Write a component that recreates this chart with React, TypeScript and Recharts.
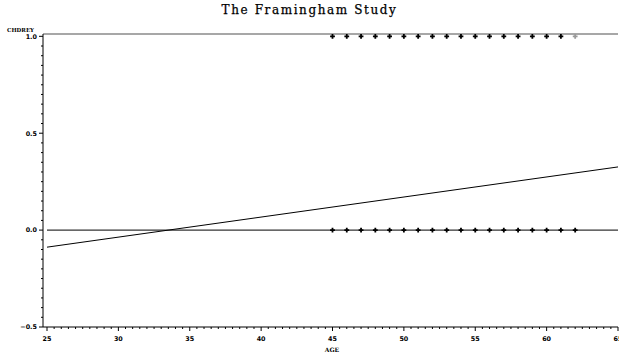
import React from 'react';
import {
  ComposedChart,
  Line,
  Scatter,
  XAxis,
  YAxis,
  ReferenceLine,
} from 'recharts';

// ---- data ----
const agesEvent: number[] = [45, 46, 47, 48, 49, 50, 51, 52, 53, 54, 55, 56, 57, 58, 59, 60, 61];
const agesEventFaint: number[] = [62];
const agesNoEvent: number[] = [45, 46, 47, 48, 49, 50, 51, 52, 53, 54, 55, 56, 57, 58, 59, 60, 61, 62];
const fitAges: number[] = [25, 65];
const fitValues: number[] = [-0.088, 0.326];
const xMajorTicks: number[] = [25, 30, 35, 40, 45, 50, 55, 60, 65];
const yMajorTicks: number[] = [-0.5, 0, 0.5, 1.0];
const title = 'The Framingham Study';
const yTitle = 'CHDREY';
const xTitle = 'AGE';

const eventData = agesEvent.map((a) => ({ age: a, y: 1 }));
const eventFaintData = agesEventFaint.map((a) => ({ age: a, y: 1 }));
const noEventData = agesNoEvent.map((a) => ({ age: a, y: 0 }));
const fitData = fitAges.map((a, i) => ({ age: a, y: fitValues[i] }));

const round = (v: number) => Math.round(v * 1000) / 1000;
const xTicks: number[] = [];
for (let i = 0; i <= 80; i++) xTicks.push(round(25 + i * 0.5));
const yTicks: number[] = [];
for (let i = 0; i <= 30; i++) yTicks.push(round(-0.5 + i * 0.05));

const isIn = (arr: number[], v: number) => arr.some((m) => Math.abs(m - v) < 1e-6);

const tickFont = "'DejaVu Sans', sans-serif";

const XTick = (props: any) => {
  const { x, y, payload } = props;
  const v = payload.value;
  const major = isIn(xMajorTicks, v);
  return (
    <g>
      <line x1={x} y1={y} x2={x} y2={y + (major ? 4 : 2)} stroke="#000" strokeWidth={1} />
      {major && (
        <text x={x} y={y + 14} textAnchor="middle" fontSize={6.4} fontWeight="bold" fontFamily={tickFont} fill="#000">
          {String(v)}
        </text>
      )}
    </g>
  );
};

const YTick = (props: any) => {
  const { x, y, payload } = props;
  const v = payload.value;
  const major = isIn(yMajorTicks, v);
  const label = v < 0 ? '\u2212' + Math.abs(v).toFixed(1) : v.toFixed(1);
  return (
    <g>
      <line x1={x - (major ? 4 : 2)} y1={y} x2={x} y2={y} stroke="#000" strokeWidth={1} />
      {major && (
        <text x={x - 6} y={y + 2.3} textAnchor="end" fontSize={6.4} fontWeight="bold" fontFamily={tickFont} fill="#000">
          {label}
        </text>
      )}
    </g>
  );
};

const makePlus = (color: string) => (props: any) => {
  const { cx, cy } = props;
  const s = 2.4;
  return (
    <path
      d={`M${cx - s},${cy}H${cx + s}M${cx},${cy - s}V${cy + s}`}
      stroke={color}
      strokeWidth={1.8}
      fill="none"
    />
  );
};

export default function App() {
  return (
    <div style={{ position: 'absolute', left: 0, top: 0, width: 619, height: 355, overflow: 'hidden', background: '#fff' }}>
      <div
        style={{
          position: 'absolute',
          left: 0,
          top: 3,
          width: 619,
          textAlign: 'center',
          fontFamily: "'DejaVu Serif', serif",
          fontSize: 12,
          letterSpacing: 1.6,
          color: '#000',
          lineHeight: '14px',
          WebkitTextStroke: '0.25px #000',
        }}
      >
        {title}
      </div>
      <div
        style={{
          position: 'absolute',
          left: 7,
          top: 27,
          fontFamily: "'DejaVu Serif', serif",
          fontSize: 5.5,
          fontWeight: 'bold',
          color: '#000',
          lineHeight: '7px',
        }}
      >
        {yTitle}
      </div>
      <div
        style={{
          position: 'absolute',
          left: 282,
          width: 100,
          top: 346,
          textAlign: 'center',
          fontFamily: "'DejaVu Serif', serif",
          fontSize: 6,
          fontWeight: 'bold',
          color: '#000',
          lineHeight: '7px',
        }}
      >
        {xTitle}
      </div>
      <div style={{ position: 'absolute', left: 0, top: 0 }}>
        <ComposedChart width={640} height={355} margin={{ top: 34, right: 22, bottom: 0, left: 0 }}>
          <XAxis
            type="number"
            dataKey="age"
            domain={[25, 65]}
            ticks={xTicks}
            interval={0}
            padding={{ left: 4, right: 0 }}
            tick={<XTick />}
            tickLine={false}
            tickSize={0}
            tickMargin={0}
            axisLine={{ stroke: '#000', strokeWidth: 1 }}
            height={28}
            allowDataOverflow
          />
          <YAxis
            type="number"
            dataKey="y"
            domain={[-0.5, 1.012]}
            ticks={yTicks}
            interval={0}
            tick={<YTick />}
            tickLine={false}
            tickSize={0}
            tickMargin={0}
            axisLine={{ stroke: '#000', strokeWidth: 1 }}
            width={43}
            allowDataOverflow
          />
          <ReferenceLine y={1.012} stroke="#8a8a8a" strokeWidth={1.6} />
          <ReferenceLine
            segment={[
              { x: 25, y: 0 },
              { x: 65, y: 0 },
            ]}
            stroke="#000"
            strokeWidth={1}
          />
          <Line
            data={fitData}
            dataKey="y"
            type="linear"
            stroke="#000"
            strokeWidth={1}
            dot={false}
            activeDot={false}
            isAnimationActive={false}
          />
          <Scatter data={noEventData} dataKey="y" shape={makePlus('#000')} isAnimationActive={false} />
          <Scatter data={eventData} dataKey="y" shape={makePlus('#000')} isAnimationActive={false} />
          <Scatter data={eventFaintData} dataKey="y" shape={makePlus('#9a9a9a')} isAnimationActive={false} />
        </ComposedChart>
      </div>
    </div>
  );
}
